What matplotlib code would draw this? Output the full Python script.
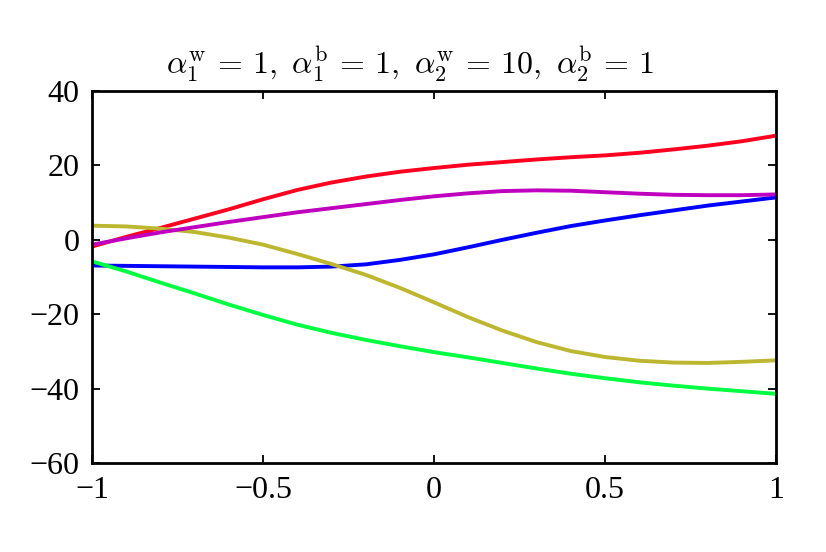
import numpy as np
import matplotlib
matplotlib.use("Agg")
import matplotlib.pyplot as plt

plt.rcParams['font.family'] = ['Liberation Serif', 'DejaVu Serif']
plt.rcParams['mathtext.fontset'] = 'cm'
plt.rcParams['axes.unicode_minus'] = True

x = np.round(np.arange(-1.0, 1.01, 0.1), 2)

red = [-1.8, 0.8, 3.2, 5.7, 8.2, 10.9, 13.4, 15.4, 17.0, 18.3, 19.3,
       20.2, 20.9, 21.6, 22.2, 22.7, 23.4, 24.3, 25.3, 26.5, 28.0]
magenta = [-1.3, 0.4, 2.0, 3.4, 4.8, 6.1, 7.4, 8.5, 9.6, 10.7, 11.7,
           12.5, 13.1, 13.3, 13.2, 12.8, 12.4, 12.1, 12.0, 12.0, 12.2]
blue = [-6.9, -7.0, -7.1, -7.2, -7.3, -7.4, -7.4, -7.2, -6.6, -5.4, -3.9,
        -2.0, 0.0, 1.9, 3.7, 5.2, 6.6, 7.9, 9.2, 10.3, 11.4]
yellow = [3.8, 3.6, 3.0, 2.1, 0.6, -1.3, -3.8, -6.5, -9.4, -12.9, -16.8,
          -20.8, -24.4, -27.5, -29.9, -31.5, -32.5, -33.0, -33.1, -32.8, -32.4]
green = [-5.8, -8.5, -11.5, -14.4, -17.4, -20.2, -22.8, -25.0, -26.9, -28.6, -30.2,
         -31.6, -33.1, -34.6, -36.0, -37.2, -38.3, -39.2, -40.0, -40.7, -41.4]

xticks = [-1, -0.5, 0, 0.5, 1]
xticklabels = ['\u22121', '\u22120.5', '0', '0.5', '1']
yticks = [-60, -40, -20, 0, 20, 40]
yticklabels = ['\u221260', '\u221240', '\u221220', '0', '20', '40']

fig = plt.figure(figsize=(8.26, 5.52), dpi=100)
ax = fig.add_axes([0.1114, 0.1612, 0.8281, 0.6739])

lw = 2.8
ax.plot(x, red, color='#ff0020', lw=lw)
ax.plot(x, blue, color='#0000ff', lw=lw)
ax.plot(x, green, color='#00ff40', lw=lw)
ax.plot(x, yellow, color='#bdb630', lw=lw)
ax.plot(x, magenta, color='#bf00bf', lw=lw)

ax.set_xlim(-1, 1)
ax.set_ylim(-60, 40)
ax.set_xticks(xticks)
ax.set_xticklabels(xticklabels)
ax.set_yticks(yticks)
ax.set_yticklabels(yticklabels)
ax.tick_params(direction='in', length=6, width=1.3, labelsize=23,
               top=True, right=True, pad=9)
for s in ax.spines.values():
    s.set_linewidth(2.0)

ax.set_title(r'$\alpha_1^{\mathrm{w}} \,=\, 1,\ \alpha_1^{\mathrm{b}} \,=\, 1,\ '
             r'\alpha_2^{\mathrm{w}} \,=\, 10,\ \alpha_2^{\mathrm{b}} \,=\, 1$',
             fontsize=23, x=0.465, pad=12)

fig.savefig('out.png', dpi=100)
